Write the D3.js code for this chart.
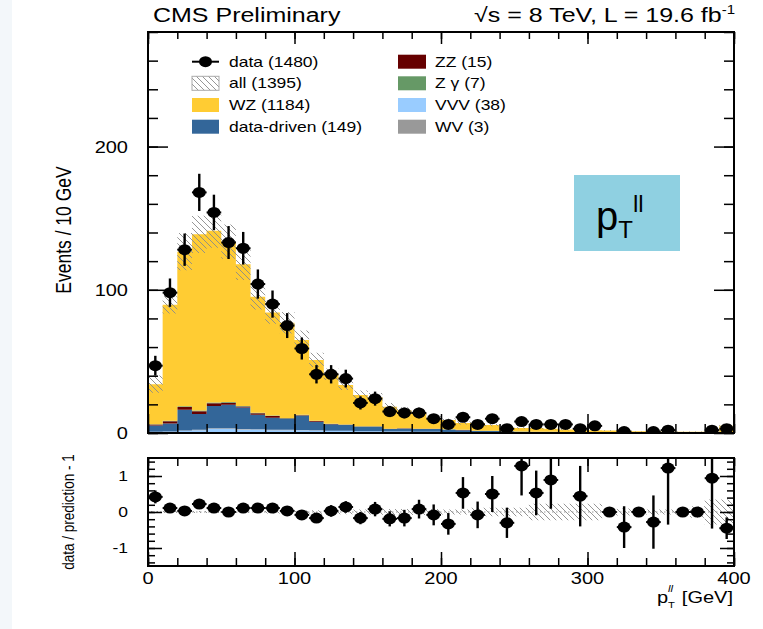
<!DOCTYPE html>
<html>
<head>
<meta charset="utf-8">
<title>pT ll</title>
<script src="https://cdn.jsdelivr.net/npm/d3@7"></script>
<style>
  body { margin: 0; background: #fff; }
  text { font-family: "Liberation Sans", Arial, sans-serif; fill: #000; }
</style>
</head>
<body>
<div id="chart"></div>
<script>
// bins of 10 GeV, 0..400
const binLo = d3.range(0, 400, 10);

// stacked MC (events / bin)
const wz = [28, 81, 108, 123, 120, 112, 99, 81, 72, 66.5,
  52.3, 42.4, 34.5, 27.5, 21.8, 20.3, 15.4, 12.5, 10.9, 7.5,
  6.4, 4.8, 5.4, 4, 2.4, 2.5, 2.6, 2.2, 1.8, 1.6,
  1.5, 1.3, 1.1, 0.8, 0.7, 0.6, 0.6, 0.6, 0.7, 4.4];
const dataDriven = [4.5, 5.5, 14.5, 11, 15.5, 16.5, 15, 10, 8.5, 7.5,
  10, 6, 4.5, 4, 3, 3, 1.8, 2.2, 2, 2,
  1.8, 1.5, 1, 1, 0.8, 0.6, 0.5, 0.5, 0.4, 0.4,
  0.3, 0.3, 0.2, 0.2, 0.2, 0.2, 0.1, 0.1, 0.1, 0.3];
const zz = [0.6, 1.6, 1.9, 1.9, 1.9, 1.3, 0.7, 1.1, 1.2, 0.5,
  0.3, 0.5, 0.2, 0.2, 0.3, 0.2, 0.1, 0.1, 0.1, 0.1,
  0.1, 0.1, 0.05, 0.05, 0.05, 0.05, 0.05, 0.05, 0, 0,
  0, 0, 0, 0, 0, 0, 0, 0, 0, 0];
const zg = [0.2, 0.3, 0.5, 0.5, 0.6, 0.5, 0.4, 0.4, 0.3, 0.3,
  0.3, 0.2, 0.2, 0.2, 0.2, 0.2, 0.1, 0.1, 0.1, 0.1,
  0.1, 0.1, 0.05, 0.05, 0.05, 0.05, 0.05, 0, 0, 0,
  0, 0, 0, 0, 0, 0, 0, 0, 0, 0];
const vvv = [0.8, 1, 1.5, 2, 3, 3, 2.5, 2.5, 2, 2,
  2, 1.8, 1.5, 1.5, 1.2, 1.2, 1, 1, 0.8, 0.8,
  0.6, 0.5, 0.5, 0.4, 0.4, 0.3, 0.3, 0.3, 0.3, 0.2,
  0.2, 0.2, 0.2, 0.2, 0.1, 0.1, 0.1, 0.1, 0.1, 0.3];
const wv = [0, 0.1, 0.2, 0.3, 0.3, 0.3, 0.3, 0.2, 0.2, 0.2,
  0.1, 0.1, 0.1, 0.1, 0.1, 0.1, 0, 0, 0, 0,
  0, 0, 0, 0, 0, 0, 0, 0, 0, 0,
  0, 0, 0, 0, 0, 0, 0, 0, 0, 0];
// uncertainty on the total prediction (hatched)
const predErr = [6, 6, 13, 13, 12, 12, 11, 9, 8, 7.5,
  6.5, 5, 4, 3.5, 3, 3, 2.5, 2, 2, 1.5,
  1.2, 1, 1, 0.8, 0.6, 0.6, 0.6, 0.6, 0.6, 0.5,
  0.5, 0.3, 0.3, 0.2, 0.2, 0.2, 0.2, 0.2, 0.3, 1.5];

// observed data
const dataVals = [47, 98, 128, 168, 154, 133, 129, 104, 90, 75,
  59, 41, 41, 38, 21, 24, 15, 14, 14, 10,
  6, 11, 6, 10, 3, 8, 6, 6, 6, 3,
  5, 0, 1, 0, 1, 2, 0, 0, 2, 3];
const dataErr = [6.9, 9.9, 11.3, 13, 12.4, 11.5, 11.4, 10.2, 9.5, 8.7,
  7.7, 6.4, 6.4, 6.2, 4.6, 4.9, 3.9, 3.7, 3.7, 3.2,
  2.4, 3.3, 2.4, 3.2, 1.7, 2.8, 2.4, 2.4, 2.4, 1.7,
  2.2, 0, 1, 0, 1, 1.4, 0, 0, 1.4, 1.7];

// ratio panel: data / prediction - 1
const ratio = [0.42, 0.11, 0.03, 0.22, 0.11, 0, 0.11, 0.11, 0.11, 0.03,
  -0.08, -0.17, 0.03, 0.14, -0.17, 0.08, -0.19, -0.17, 0.08, -0.08,
  -0.33, 0.53, -0.08, 0.5, -0.3, 1.28, 0.53, 0.89, null, 0.44,
  null, 0, -0.42, 0, -0.28, 1.22, 0, 0, 0.94, -0.45];
const ratioErr = [0.18, 0.1, 0.09, 0.08, 0.08, 0.09, 0.09, 0.1, 0.11, 0.12,
  0.12, 0.13, 0.16, 0.16, 0.17, 0.2, 0.21, 0.23, 0.26, 0.29,
  0.3, 0.44, 0.37, 0.5, 0.42, 0.82, 0.62, 0.8, null, 0.84,
  null, 0, 0.58, 0, 0.74, 1.57, 0, 0, 1.4, 0.3];
const ratioBand = [0.03, 0.03, 0.03, 0.03, 0.03, 0.03, 0.03, 0.03, 0.04, 0.04,
  0.04, 0.05, 0.05, 0.06, 0.07, 0.07, 0.08, 0.08, 0.08, 0.08,
  0.07, 0.07, 0.12, 0.12, 0.12, 0.12, 0.23, 0.23, 0.23, 0.23,
  0.23, 0.08, 0.1, 0.1, 0.07, 0.07, 0.07, 0.16, 0.35, 0.35];

const legendLeft = ["data (1480)", "all (1395)", "WZ (1184)", "data-driven (149)"];
const legendRight = ["ZZ (15)", "Z \u03b3 (7)", "VVV (38)", "WV (3)"];

const colors = {wz: "#ffcc33", dataDriven: "#336699", zz: "#660000", zg: "#669966", vvv: "#99ccff", wv: "#999999"};
const SX = 1.25; // the picture is stretched horizontally

const W = 763, H = 629;
const svg = d3.select("#chart").append("svg").attr("width", W).attr("height", H);
const defs = svg.append("defs");
defs.append("pattern").attr("id", "hatch").attr("patternUnits", "userSpaceOnUse")
    .attr("width", 6).attr("height", 6)
  .append("path").attr("d", "M0,0 L6,6 M-3,3 L3,9 M3,-3 L9,3")
    .attr("stroke", "#8a8a8a").attr("stroke-width", 0.9);

svg.append("rect").attr("width", 12).attr("height", H).attr("fill", "#f3f7fa");

const x = d3.scaleLinear().domain([0, 400]).range([148, 734]);
const y = d3.scaleLinear().domain([0, 280]).range([433, 32]);
const yr = d3.scaleLinear().domain([-1.5, 1.5]).range([566, 458]);

defs.append("clipPath").attr("id", "clipMain").append("rect")
    .attr("x", x(0)).attr("y", y(280)).attr("width", x(400) - x(0)).attr("height", y(0) - y(280));
defs.append("clipPath").attr("id", "clipRatio").append("rect")
    .attr("x", x(0)).attr("y", yr(1.5)).attr("width", x(400) - x(0)).attr("height", yr(-1.5) - yr(1.5));

// stretched text helper
function stext(g, px, py, str, size, anchor, rot) {
  return g.append("g")
      .attr("transform", `translate(${px},${py}) scale(${SX},1)` + (rot ? " rotate(-90)" : ""))
    .append("text").attr("font-size", size).attr("text-anchor", anchor || "start").text(str);
}

// step path helper: vals = [[y0, y1], ...] per bin
function stepPoints(vals) {
  return vals.flatMap((v, i) => [{x: binLo[i], y0: v[0], y1: v[1]}, {x: binLo[i] + 10, y0: v[0], y1: v[1]}]);
}

// ---- main panel ----
const main = svg.append("g");
const keys = ["vvv", "wv", "dataDriven", "zz", "zg", "wz"];
const src = {wz, dataDriven, zz, zg, vvv, wv};
const rows = binLo.map((lo, i) => Object.fromEntries(keys.map(k => [k, src[k][i]])));
const stacked = d3.stack().keys(keys)(rows);

const area = d3.area().x(p => x(p.x)).y0(p => y(p.y0)).y1(p => y(p.y1));
const mc = main.append("g").attr("clip-path", "url(#clipMain)");
stacked.forEach(layer => {
  mc.append("path")
    .attr("d", area(stepPoints(layer.map(d => [d[0], d[1]]))))
    .attr("fill", colors[layer.key]);
});
const total = stacked[stacked.length - 1].map(d => d[1]);
mc.append("path")
  .attr("d", area(stepPoints(total.map((t, i) => [Math.max(0, t - predErr[i]), t + predErr[i]]))))
  .attr("fill", "url(#hatch)");

function drawPoints(g, xs, vals, errs, ys, lo, hi) {
  const pts = xs.map((b, i) => ({b, v: vals[i], e: errs[i]})).filter(d => d.v !== null);
  const pg = g.selectAll(".pt").data(pts).join("g");
  pg.filter(d => d.e > 0).append("line")
    .attr("x1", d => x(d.b + 5)).attr("x2", d => x(d.b + 5))
    .attr("y1", d => ys(Math.max(lo, d.v - d.e))).attr("y2", d => ys(Math.min(hi, d.v + d.e)))
    .attr("stroke", "#000").attr("stroke-width", 2.4);
  pg.append("line")
    .attr("x1", d => x(d.b)).attr("x2", d => x(d.b + 10))
    .attr("y1", d => ys(d.v)).attr("y2", d => ys(d.v))
    .attr("stroke", "#000").attr("stroke-width", 2);
  pg.append("ellipse")
    .attr("cx", d => x(d.b + 5)).attr("cy", d => ys(d.v))
    .attr("rx", 6.5).attr("ry", 5.5).attr("fill", "#000");
}
const dataG = main.append("g").attr("clip-path", "url(#clipMain)");
drawPoints(dataG, binLo.filter((b, i) => dataVals[i] > 0),
  dataVals.filter(v => v > 0), dataErr.filter((e, i) => dataVals[i] > 0), y, 0, 280);

// ticks (inward) on all four sides
function tickAxis(g, axis, tr) {
  g.append("g").attr("transform", tr).call(axis)
    .call(s => s.select(".domain").remove())
    .call(s => s.selectAll("line").attr("stroke-width", 1.5));
}
const xMajor = [0, 100, 200, 300, 400];
const xMinor = d3.range(0, 401, 20);
const yMajor = [0, 100, 200];
const yMinor = d3.range(0, 281, 20);
tickAxis(main, d3.axisLeft(y).tickValues(yMajor).tickSize(-20).tickFormat(""), `translate(${x(0)},0)`);
tickAxis(main, d3.axisLeft(y).tickValues(yMinor).tickSize(-10).tickFormat(""), `translate(${x(0)},0)`);
tickAxis(main, d3.axisRight(y).tickValues(yMajor).tickSize(-20).tickFormat(""), `translate(${x(400)},0)`);
tickAxis(main, d3.axisRight(y).tickValues(yMinor).tickSize(-10).tickFormat(""), `translate(${x(400)},0)`);
tickAxis(main, d3.axisBottom(x).tickValues(xMajor).tickSize(-19).tickFormat(""), `translate(0,${y(0)})`);
tickAxis(main, d3.axisBottom(x).tickValues(xMinor).tickSize(-9).tickFormat(""), `translate(0,${y(0)})`);
tickAxis(main, d3.axisTop(x).tickValues(xMajor).tickSize(-12).tickFormat(""), `translate(0,${y(280)})`);
tickAxis(main, d3.axisTop(x).tickValues(xMinor).tickSize(-7).tickFormat(""), `translate(0,${y(280)})`);
main.append("rect").attr("x", x(0)).attr("y", y(280))
  .attr("width", x(400) - x(0)).attr("height", y(0) - y(280))
  .attr("fill", "none").attr("stroke", "#000").attr("stroke-width", 2);

yMajor.forEach(v => stext(main, 128, y(v) + 6, String(v), 16, "end"));
stext(main, 71, 230, "Events / 10 GeV", 17.5, "middle", true);

// legend
const legY = [61.7, 83.3, 105, 126.7];
const leg = svg.append("g");
leg.append("line").attr("x1", 192).attr("x2", 219).attr("y1", legY[0]).attr("y2", legY[0])
  .attr("stroke", "#000").attr("stroke-width", 2);
leg.append("ellipse").attr("cx", 205.5).attr("cy", legY[0]).attr("rx", 6.5).attr("ry", 5.5).attr("fill", "#000");
leg.append("rect").attr("x", 192).attr("y", legY[1] - 7).attr("width", 27).attr("height", 14)
  .attr("fill", "url(#hatch)").attr("stroke", "#aaa").attr("stroke-width", 1);
leg.append("rect").attr("x", 192).attr("y", legY[2] - 7).attr("width", 27).attr("height", 14).attr("fill", colors.wz);
leg.append("rect").attr("x", 192).attr("y", legY[3] - 7).attr("width", 27).attr("height", 14).attr("fill", colors.dataDriven);
["zz", "zg", "vvv", "wv"].forEach((k, i) => {
  leg.append("rect").attr("x", 398).attr("y", legY[i] - 7).attr("width", 28).attr("height", 14).attr("fill", colors[k]);
});
legendLeft.forEach((t, i) => stext(leg, 229, legY[i] + 5, t, 14));
legendRight.forEach((t, i) => stext(leg, 435, legY[i] + 5, t, 14));

// header
stext(svg, 153, 22, "CMS Preliminary", 20);
const hdr = stext(svg, 735, 22, "\u221as = 8 TeV, L = 19.6 fb", 20, "end");
hdr.append("tspan").attr("font-size", 12).attr("dy", -8).text("-1");

// pT ll box
svg.append("rect").attr("x", 574).attr("y", 175).attr("width", 106).attr("height", 76).attr("fill", "#8fd0e1");
const bt = svg.append("text").attr("x", 596).attr("y", 230).attr("font-size", 40).attr("fill", "#1a1a1a");
bt.append("tspan").text("p");
bt.append("tspan").attr("font-size", 24).attr("dy", 8).text("T");
bt.append("tspan").attr("font-size", 24).attr("dy", -26).text("ll");

// ---- ratio panel ----
const rp = svg.append("g");
const rarea = d3.area().x(p => x(p.x)).y0(p => yr(p.y0)).y1(p => yr(p.y1));
rp.append("path").attr("d", rarea(stepPoints(ratioBand.map(b => [-b, b])))).attr("fill", "url(#hatch)");
rp.append("line").attr("x1", x(0)).attr("x2", x(400)).attr("y1", yr(0)).attr("y2", yr(0))
  .attr("stroke", "#999").attr("stroke-dasharray", "1.5,2.5");
const rg = rp.append("g").attr("clip-path", "url(#clipRatio)");
drawPoints(rg, binLo, ratio, ratioErr, yr, -1.5, 1.5);

const rMajor = [-1, 0, 1];
const rMinor = d3.range(-1.4, 1.5, 0.2);
tickAxis(rp, d3.axisLeft(yr).tickValues(rMajor).tickSize(-14).tickFormat(""), `translate(${x(0)},0)`);
tickAxis(rp, d3.axisLeft(yr).tickValues(rMinor).tickSize(-7).tickFormat(""), `translate(${x(0)},0)`);
tickAxis(rp, d3.axisRight(yr).tickValues(rMajor).tickSize(-14).tickFormat(""), `translate(${x(400)},0)`);
tickAxis(rp, d3.axisRight(yr).tickValues(rMinor).tickSize(-7).tickFormat(""), `translate(${x(400)},0)`);
tickAxis(rp, d3.axisBottom(x).tickValues(xMajor).tickSize(-14).tickFormat(""), `translate(0,${yr(-1.5)})`);
tickAxis(rp, d3.axisBottom(x).tickValues(xMinor).tickSize(-8).tickFormat(""), `translate(0,${yr(-1.5)})`);
tickAxis(rp, d3.axisTop(x).tickValues(xMajor).tickSize(-14).tickFormat(""), `translate(0,${yr(1.5)})`);
tickAxis(rp, d3.axisTop(x).tickValues(xMinor).tickSize(-8).tickFormat(""), `translate(0,${yr(1.5)})`);
rp.append("rect").attr("x", x(0)).attr("y", yr(1.5))
  .attr("width", x(400) - x(0)).attr("height", yr(-1.5) - yr(1.5))
  .attr("fill", "none").attr("stroke", "#000").attr("stroke-width", 2);

rMajor.forEach(v => stext(rp, 128, yr(v) + 5, String(v), 14, "end"));
xMajor.forEach(v => stext(rp, x(v), 584, String(v), 16, "middle"));
stext(rp, 74, yr(0), "data / prediction - 1", 13.5, "middle", true);

// x-axis title: p, with T below and ll above, then [GeV]
stext(rp, 657, 603, "p", 16);
stext(rp, 668, 608, "T", 9);
stext(rp, 668, 592, "ll", 9).attr("font-style", "italic");
stext(rp, 733, 603, "[GeV]", 16, "end");
</script>
</body>
</html>
